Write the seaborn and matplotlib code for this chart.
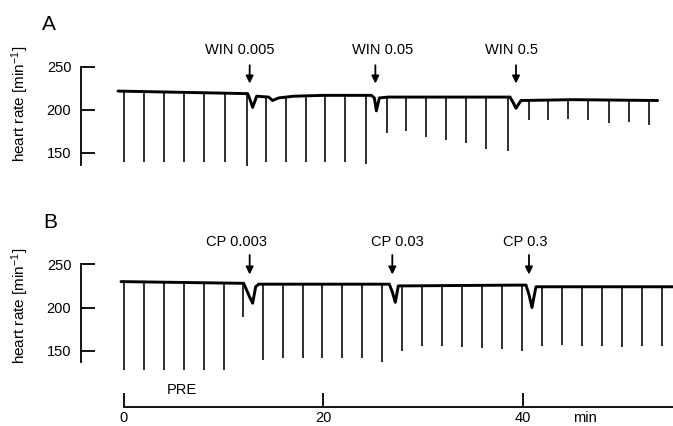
import matplotlib
matplotlib.use("Agg")
import matplotlib.pyplot as plt
import numpy as np
import pandas as pd
import seaborn as sns

# ---- data (time in min, heart rate in 1/min) ----
# panel A: baseline knots (incl. the short drug responses)
a_base_t = [-0.6, 12.4, 12.7, 12.9, 13.3, 14.5, 14.9, 15.5, 17.0, 20.0, 24.8, 25.1,
            25.3, 25.6, 26.5, 30.0, 38.7, 39.0, 39.3, 39.8, 45.0, 53.5]
a_base_hr = [222, 219, 210, 203, 216, 215, 211, 214, 216, 217, 217, 214,
             199, 214, 215, 215, 215, 209, 202, 211, 212, 211]
a_spike_t = [0, 2, 4, 6, 8, 10.1, 12.3, 14.2, 16.2, 18.2, 20.2, 22.2, 24.3, 26.4,
             28.3, 30.3, 32.3, 34.3, 36.3, 38.5, 40.6, 42.5, 44.5, 46.5, 48.6, 50.6, 52.6]
a_spike_min = [140, 140, 140, 140, 140, 139, 135, 140, 140, 140, 140, 139, 137, 173,
               175, 169, 165, 162, 155, 152, 188, 188, 190, 188, 185, 186, 183]
a_drug_t = [12.6, 25.2, 39.3]
a_drug_lbl = ["WIN 0.005", "WIN 0.05", "WIN 0.5"]

# panel B
b_base_t = [-0.3, 12.0, 12.3, 12.6, 12.9, 13.2, 13.5, 26.6, 26.9, 27.2, 27.5,
            40.3, 40.6, 40.9, 41.3, 55.2]
b_base_hr = [230, 228, 220, 212, 205, 224, 227, 227, 218, 206, 225,
             226, 215, 200, 224, 224]
b_spike_t = [0, 2, 4, 6, 8, 10, 11.9, 13.9, 15.9, 17.9, 19.9, 21.9, 23.9, 25.9,
             27.9, 29.9, 31.9, 33.9, 35.9, 37.9, 39.9, 41.9, 43.9, 45.9, 47.9, 49.9,
             51.9, 53.9]
b_spike_min = [128, 128, 128, 128, 128, 128, 189, 139, 141, 141, 141, 141, 141, 137,
               150, 155, 155, 154, 153, 152, 150, 156, 157, 156, 155, 154, 155, 155]
b_drug_t = [12.6, 26.9, 40.6]
b_drug_lbl = ["CP 0.003", "CP 0.03", "CP 0.3"]

hr_ticks = [150, 200, 250]
time_ticks = [0, 20, 40]

# ---- layout (pixels of the 673x426 figure) ----
W, H = 673, 426
XMIN, XMAX = -4.31, 55.04
fs = 10.5

sns.set_style("ticks")
plt.rcParams["font.family"] = ["Liberation Sans", "DejaVu Sans"]
plt.rcParams["mathtext.default"] = "regular"
for key in ["text.color", "axes.labelcolor", "xtick.color", "ytick.color", "axes.edgecolor"]:
    plt.rcParams[key] = "black"


def px_axes(fig, left, top, right, bottom):
    return fig.add_axes([left / W, 1 - bottom / H, (right - left) / W, (bottom - top) / H])


def draw_panel(ax, base_t, base_hr, spike_t, spike_min, ylim, spine_low):
    df = pd.DataFrame({"t": base_t, "hr": base_hr})
    sns.lineplot(data=df, x="t", y="hr", ax=ax, color="black", lw=2.1,
                 sort=False, estimator=None)
    tops = np.interp(spike_t, base_t, base_hr)
    ax.vlines(spike_t, spike_min, tops, color="black", lw=1.15)

    ax.set_xlim(XMIN, XMAX)
    ax.set_ylim(*ylim)
    ax.set_yticks(hr_ticks)
    ax.set_xticks([])
    ax.set_xlabel("")
    ax.set_ylabel("")
    for s in ["top", "right", "bottom"]:
        ax.spines[s].set_visible(False)
    ax.spines["left"].set_bounds(spine_low, 250)
    ax.spines["left"].set_linewidth(1.3)
    ax.tick_params(axis="y", direction="in", length=10, width=1.3, pad=7, labelsize=fs)
    ax.patch.set_visible(False)


def draw_arrows(ax, times, labels, dx, y_lo, y_hi, y_txt):
    for t, lbl, d in zip(times, labels, dx):
        ax.annotate("", xy=(t, y_lo), xytext=(t, y_hi),
                    arrowprops=dict(arrowstyle="-|>", color="black", lw=1.3,
                                    mutation_scale=11, shrinkA=0, shrinkB=0),
                    annotation_clip=False)
        ax.text(t + d, y_txt, lbl, ha="center", va="center", fontsize=fs, clip_on=False)


fig = plt.figure(figsize=(W / 100, H / 100), dpi=100)

ax_a = px_axes(fig, 81, 30, 673, 170)
draw_panel(ax_a, a_base_t, a_base_hr, a_spike_t, a_spike_min, (130.2, 293.0), 136)
draw_arrows(ax_a, a_drug_t, a_drug_lbl, [-1.0, 0.7, -0.5], 230.8, 252, 270.3)

ax_b = px_axes(fig, 81, 225, 673, 375)
draw_panel(ax_b, b_base_t, b_base_hr, b_spike_t, b_spike_min, (121.9, 295.5), 137)
draw_arrows(ax_b, b_drug_t, b_drug_lbl, [-1.3, 0.5, -0.4], 238.2, 260.8, 276.4)

# time axis
ax_t = px_axes(fig, 81, 380, 673, 406.7)
ax_t.set_xlim(XMIN, XMAX)
ax_t.set_ylim(0, 1)
ax_t.set_yticks([])
ax_t.set_xticks(time_ticks)
for s in ["top", "right", "left"]:
    ax_t.spines[s].set_visible(False)
ax_t.spines["bottom"].set_bounds(0, XMAX)
ax_t.spines["bottom"].set_linewidth(1.3)
ax_t.tick_params(axis="x", direction="in", length=10, width=1.3, pad=3, labelsize=fs)
ax_t.patch.set_visible(False)
ax_t.text(46.2, -0.42, "min", ha="center", va="center", fontsize=fs,
          transform=ax_t.get_xaxis_transform(), clip_on=False)
ax_t.text(5.8, 0.63, "PRE", ha="center", va="center", fontsize=fs,
          transform=ax_t.get_xaxis_transform())

# panel letters and y labels
fig.text(49 / W, 1 - 25 / H, "A", fontsize=15, ha="center", va="center")
fig.text(50 / W, 1 - 223 / H, "B", fontsize=15, ha="center", va="center")
for yc in [104, 306]:
    fig.text(20 / W, 1 - yc / H, "heart rate [min$^{-1}$]", rotation=90,
             ha="center", va="center", fontsize=11)

fig.savefig("out.png", dpi=100)
